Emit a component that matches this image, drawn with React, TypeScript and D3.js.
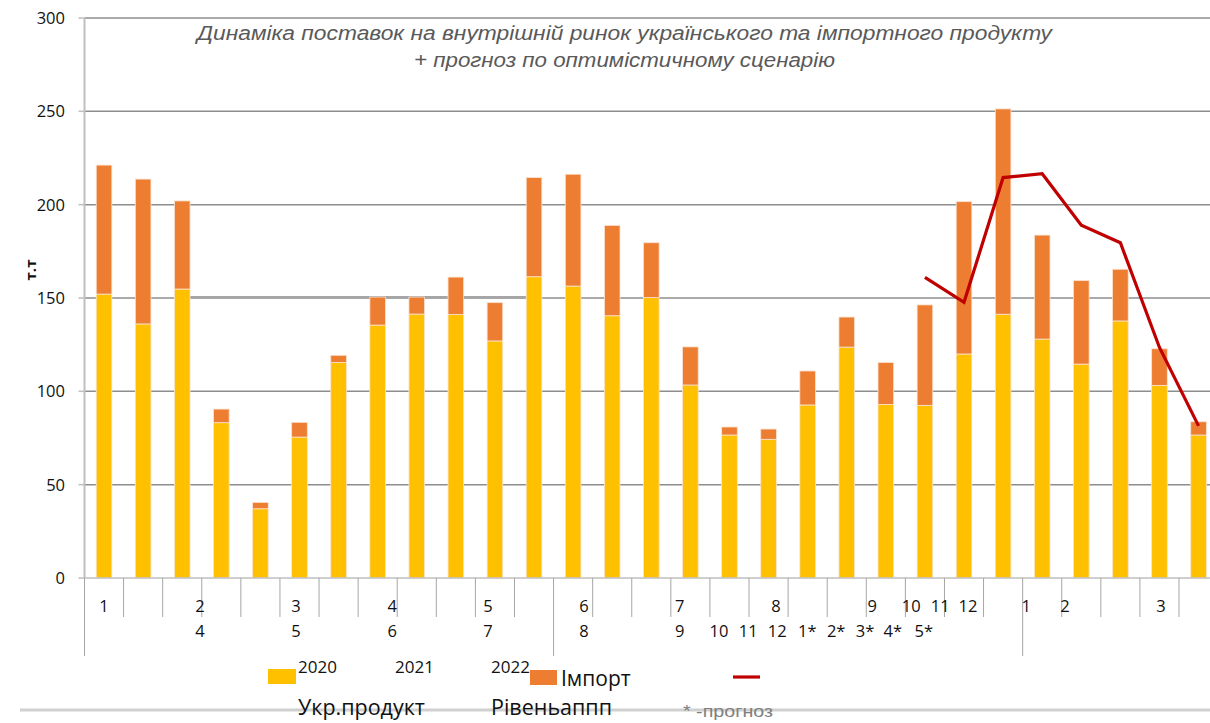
import React from 'react'
import * as d3 from 'd3'

const width = 1210;
const height = 723;
const margin = ({top: 18, right: -8, bottom: 145, left: 84.5});

// 2020: 12 months, 2021: 12 months, 2022: 5 months (forecast)
const categories = d3.range(29).map(i => `m${i + 1}`);

const ukrProduct = [152.1, 136.1, 154.8, 83.2, 37.1, 75.5, 115.5, 135.5, 141.4, 141.1, 127.0, 161.4,
    156.4, 140.5, 150.2, 103.4, 76.6, 74.3, 92.7, 123.7, 93.0, 92.5, 120.0, 141.3,
    128.0, 114.6, 137.7, 103.2, 76.6];

const importProduct = [69.1, 77.6, 47.2, 7.3, 3.4, 7.9, 3.8, 15.0, 9.1, 20.1, 20.5, 53.1,
    59.9, 48.4, 29.4, 20.4, 4.3, 5.5, 18.2, 16.1, 22.4, 53.8, 81.6, 110.0,
    55.7, 44.7, 27.7, 19.6, 7.1];

// level line (previous-year volumes), only for the last months
const levelLine = [null, null, null, null, null, null, null, null, null, null, null, null,
    null, null, null, null, null, null, null, null, null, 161.1, 147.7, 214.5,
    216.6, 189.0, 179.6, 123.5, 81.5];

const yTicks = [0, 50, 100, 150, 200, 250, 300];

// category-axis labels as printed: [text, slot along the axis in category units]
const axisRow1 = [["1", 0.5], ["2", 2.955], ["3", 5.41], ["4", 7.87], ["5", 10.32], ["6", 12.78],
    ["7", 15.23], ["8", 17.69], ["9", 20.15], ["10", 21.15], ["11", 21.89], ["12", 22.6],
    ["1", 24.09], ["2", 25.08], ["3", 27.54]];
const axisRow2 = [["4", 2.955], ["5", 5.41], ["6", 7.87], ["7", 10.32], ["8", 12.78], ["9", 15.23],
    ["10", 16.23], ["11", 16.98], ["12", 17.72], ["1*", 18.49], ["2*", 19.23], ["3*", 19.97],
    ["4*", 20.68], ["5*", 21.47]];
const yearBreaks = [0, 12, 24];

const titleLines = ["Динаміка поставок на внутрішній ринок українського та імпортного продукту",
    "+ прогноз по оптимістичному сценарію"];

const font = "'Open Sans', sans-serif";

export default function App() {
    const plotRight = 1218.1;
    const x = d3.scaleBand()
        .domain(categories)
        .range([margin.left, plotRight])
        .paddingInner(0.6)
        .paddingOuter(0.3);

    const slot = d3.scaleLinear()
        .domain([0, categories.length])
        .range([margin.left, plotRight]);

    const y = d3.scaleLinear()
        .domain([0, 300])
        .range([height - margin.bottom, margin.top]);

    const table = categories.map((c, i) => ({cat: c, ukr: ukrProduct[i], imp: importProduct[i]}));
    const series = d3.stack().keys(["ukr", "imp"])(table);
    const colors = {ukr: "#FFC000", imp: "#ED7D31"};

    const line = d3.line()
        .defined(d => d != null)
        .x((d, i) => x(categories[i]) + x.bandwidth() / 2)
        .y(d => y(d));

    const y0 = y(0);
    const titleWidths = [855, 421];

    return (
        <svg width={width} height={height} style={{position: "absolute", left: 0, top: 0, fontFamily: font}}>
            <rect width={width} height={height} fill="#fff"/>

            {/* grid */}
            {yTicks.filter(t => t > 0).map(t =>
                <line key={t} x1={margin.left} x2={width} y1={y(t)} y2={y(t)} stroke="#8e8e8e" strokeWidth={1.5}/>)}
            {/* stray segment on the 150 line */}
            <line x1={x(categories[2]) + x.bandwidth()} x2={x(categories[11])} y1={y(150) - 0.8} y2={y(150) - 0.8}
                  stroke="#a6a6a6" strokeWidth={2.5}/>

            {/* y axis */}
            <line x1={margin.left} x2={margin.left} y1={margin.top} y2={y0} stroke="#bfbfbf" strokeWidth={2}/>
            {yTicks.map(t =>
                <g key={t}>
                    <line x1={margin.left - 6} x2={margin.left} y1={y(t)} y2={y(t)} stroke="#bfbfbf" strokeWidth={1.5}/>
                    <text x={65} y={y(t)} dy="0.36em" textAnchor="end" fontSize={16.5} fill="#111">{t}</text>
                </g>)}
            <text transform={`translate(36,${y(165)}) rotate(-90)`} textAnchor="middle" fontSize={15}
                  fontWeight="bold" fill="#111">т.т</text>

            {/* bars */}
            {series.map(s =>
                <g key={s.key} fill={colors[s.key]} stroke="#fbe3d2" strokeWidth={0.8}>
                    {s.map((d, i) =>
                        <rect key={i} x={x(categories[i])} width={x.bandwidth()}
                              y={y(d[1])} height={y(d[0]) - y(d[1])}/>)}
                </g>)}

            {/* level line */}
            <path d={line(levelLine)} fill="none" stroke="#C00000" strokeWidth={3.2} strokeLinejoin="miter"/>

            {/* category axis */}
            <line x1={margin.left} x2={width} y1={y0} y2={y0} stroke="#bfbfbf" strokeWidth={1.5}/>
            {d3.range(categories.length + 1).map(k =>
                <line key={k} x1={slot(k)} x2={slot(k)} y1={y0} y2={yearBreaks.includes(k) ? 656 : 617}
                      stroke="#a6a6a6" strokeWidth={1}/>)}
            {axisRow1.map(([t, p], i) =>
                <text key={"a" + i} x={slot(p)} y={606} dy="0.36em" textAnchor="middle" fontSize={16.5} fill="#111">{t}</text>)}
            {axisRow2.map(([t, p], i) =>
                <text key={"b" + i} x={slot(p)} y={631} dy="0.36em" textAnchor="middle" fontSize={16.5} fill="#111">{t}</text>)}

            {/* title */}
            {titleLines.map((t, i) =>
                <text key={i} x={624.5} y={33 + i * 27} dy="0.36em" textAnchor="middle" fontSize={20}
                      textLength={titleWidths[i]} lengthAdjust="spacingAndGlyphs"
                      fontStyle="italic" fill="#595959" fontFamily="'Liberation Sans', Arial, sans-serif">{t}</text>)}

            {/* legend */}
            <line x1={20} x2={width} y1={710} y2={710} stroke="#d0d0d0" strokeWidth={3}/>
            <rect x={268} y={669} width={28} height={15} fill={colors.ukr}/>
            <text x={298} y={667} dy="0.36em" fontSize={17} fill="#111">2020</text>
            <text x={395} y={667} dy="0.36em" fontSize={17} fill="#111">2021</text>
            <text x={491} y={667} dy="0.36em" fontSize={17} fill="#111">2022</text>
            <rect x={530} y={670} width={27} height={15} fill={colors.imp}/>
            <text x={561} y={678} dy="0.36em" fontSize={21} fill="#111">Імпорт</text>
            <line x1={733} x2={760} y1={677} y2={677} stroke="#C00000" strokeWidth={3.2}/>
            <text x={298} y={707} dy="0.36em" fontSize={21.5} fill="#111">Укр.продукт</text>
            <text x={491} y={707} dy="0.36em" fontSize={21.5} fill="#111">Рівеньаппп</text>
            <text x={683} y={711} dy="0.36em" fontSize={17} fill="#7f7f7f" textLength={90}
                  lengthAdjust="spacingAndGlyphs"
                  fontFamily="'Liberation Sans', Arial, sans-serif">* -прогноз</text>
        </svg>
    );
}
